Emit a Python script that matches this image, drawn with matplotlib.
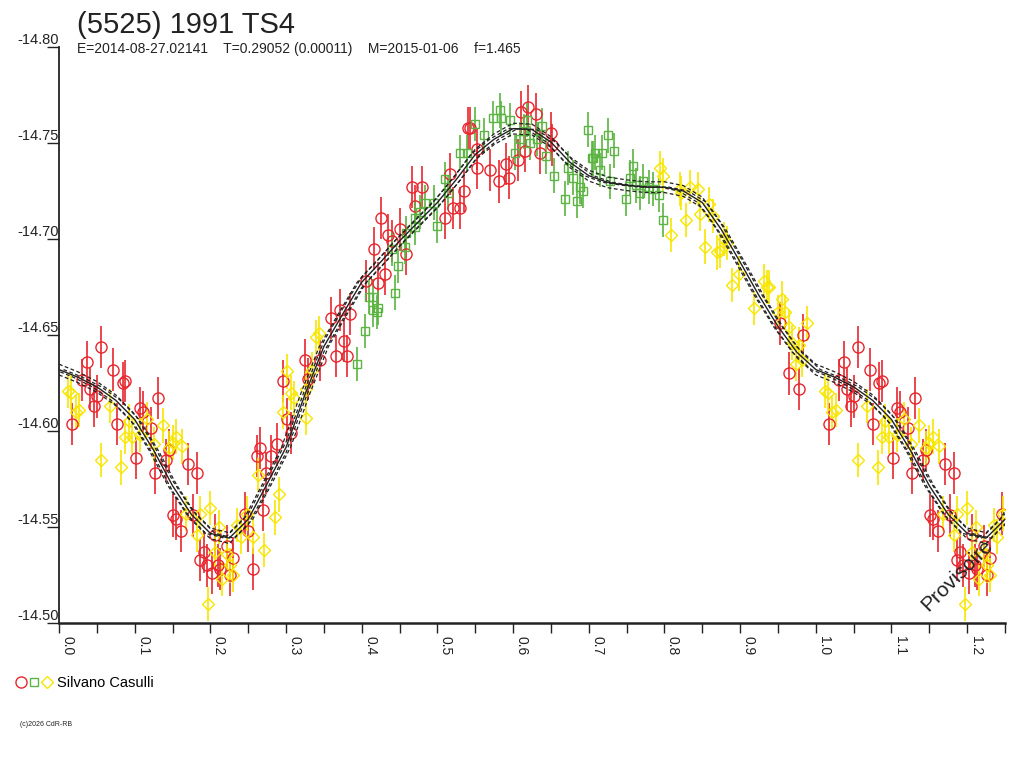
import numpy as np
import matplotlib
matplotlib.use("Agg")
import matplotlib.pyplot as plt
from matplotlib.transforms import ScaledTranslation
from matplotlib.legend_handler import HandlerTuple

plt.rcParams['font.family'] = ['Liberation Sans', 'DejaVu Sans']

title = "(5525) 1991 TS4"
subtitle = "E=2014-08-27.02141    T=0.29052 (0.00011)    M=2015-01-06    f=1.465"
observer = "Silvano Casulli"
copyright_txt = "(c)2026 CdR-RB"
watermark = "Provisoire"

# --- data (phase, magnitude) ---
red_phase = [0.017, 0.031, 0.037, 0.041, 0.046, 0.050, 0.056, 0.072, 0.076, 0.084, 0.087,
             0.102, 0.107, 0.111, 0.122, 0.127, 0.131, 0.141, 0.145, 0.151, 0.155, 0.161,
             0.171, 0.177, 0.182, 0.186, 0.191, 0.195, 0.202, 0.206, 0.210, 0.213, 0.222,
             0.226, 0.230, 0.246, 0.250, 0.257, 0.261, 0.266, 0.270, 0.274, 0.280, 0.288,
             0.296, 0.301, 0.307, 0.325, 0.329, 0.345, 0.360, 0.366, 0.371, 0.376, 0.380,
             0.385, 0.406, 0.416, 0.421, 0.426, 0.431, 0.435, 0.440, 0.451, 0.459, 0.466,
             0.470, 0.480, 0.510, 0.517, 0.521, 0.530, 0.535, 0.541, 0.543, 0.552, 0.552,
             0.570, 0.581, 0.591, 0.595, 0.606, 0.610, 0.616, 0.620, 0.630, 0.636, 0.650,
             0.652, 0.953, 0.964, 0.978, 0.983]
red_mag = [-14.6035, -14.6266, -14.6358, -14.622, -14.613, -14.618, -14.6436, -14.632, -14.6035,
           -14.6248, -14.626, -14.5858, -14.612, -14.610, -14.6014, -14.578, -14.617, -14.585,
           -14.590, -14.556, -14.554, -14.548, -14.583, -14.556, -14.578, -14.533, -14.537,
           -14.530, -14.526, -14.546, -14.530, -14.528, -14.540, -14.525, -14.534, -14.557,
           -14.548, -14.528, -14.587, -14.591, -14.559, -14.578, -14.587, -14.593, -14.626,
           -14.606, -14.599, -14.637, -14.627, -14.637, -14.659, -14.639, -14.663, -14.647,
           -14.639, -14.661, -14.678, -14.695, -14.677, -14.711, -14.682, -14.702, -14.699,
           -14.705, -14.692, -14.727, -14.717, -14.727, -14.711, -14.734, -14.716, -14.716,
           -14.725, -14.758, -14.758, -14.747, -14.737, -14.736, -14.730, -14.739, -14.732,
           -14.741, -14.766, -14.746, -14.769, -14.765, -14.745, -14.755, -14.749, -14.656,
           -14.630, -14.622, -14.650]

green_phase = [0.394, 0.404, 0.410, 0.415, 0.415, 0.420, 0.422, 0.440, 0.444, 0.448, 0.457,
               0.459, 0.470, 0.471, 0.477, 0.484, 0.495, 0.499, 0.510, 0.514, 0.530, 0.539,
               0.550, 0.561, 0.574, 0.583, 0.584, 0.596, 0.603, 0.609, 0.614, 0.619, 0.623,
               0.631, 0.638, 0.644, 0.654, 0.669, 0.673, 0.679, 0.684, 0.688, 0.692, 0.699,
               0.704, 0.705, 0.708, 0.715, 0.718, 0.725, 0.728, 0.734, 0.749, 0.754, 0.758,
               0.763, 0.768, 0.772, 0.780, 0.785, 0.793, 0.798]
green_mag = [-14.635, -14.652, -14.670, -14.663, -14.670, -14.662, -14.664, -14.695, -14.672,
             -14.686, -14.696, -14.703, -14.706, -14.711, -14.714, -14.719, -14.719, -14.707,
             -14.731, -14.724, -14.745, -14.745, -14.760, -14.754, -14.763, -14.767, -14.763,
             -14.762, -14.745, -14.752, -14.756, -14.762, -14.750, -14.752, -14.759, -14.743,
             -14.733, -14.721, -14.737, -14.732, -14.720, -14.727, -14.725, -14.757, -14.742,
             -14.742, -14.745, -14.736, -14.745, -14.754, -14.730, -14.746, -14.721, -14.732,
             -14.738, -14.728, -14.724, -14.730, -14.727, -14.726, -14.723, -14.710]

yellow_phase = [0.012, 0.016, 0.022, 0.027, 0.056, 0.067, 0.082, 0.087, 0.092, 0.097, 0.107,
                0.116, 0.126, 0.137, 0.145, 0.150, 0.155, 0.163, 0.168, 0.182, 0.186, 0.197,
                0.200, 0.206, 0.212, 0.216, 0.222, 0.226, 0.230, 0.235, 0.240, 0.248, 0.257,
                0.263, 0.271, 0.285, 0.291, 0.296, 0.301, 0.307, 0.310, 0.326, 0.327, 0.334,
                0.340, 0.344, 0.794, 0.798, 0.809, 0.820, 0.822, 0.829, 0.834, 0.845, 0.847,
                0.854, 0.859, 0.864, 0.869, 0.874, 0.879, 0.883, 0.889, 0.898, 0.918, 0.931,
                0.935, 0.938, 0.950, 0.955, 0.959, 0.964, 0.968, 0.974, 0.978, 0.982, 0.989]
yellow_mag = [-14.621, -14.620, -14.610, -14.611, -14.585, -14.613, -14.581, -14.597, -14.605,
              -14.597, -14.598, -14.606, -14.593, -14.603, -14.591, -14.594, -14.597, -14.592,
              -14.557, -14.546, -14.557, -14.510, -14.560, -14.537, -14.550, -14.523, -14.536,
              -14.530, -14.525, -14.551, -14.545, -14.557, -14.545, -14.577, -14.538, -14.555,
              -14.567, -14.610, -14.631, -14.620, -14.617, -14.607, -14.622, -14.632, -14.649,
              -14.651, -14.737, -14.733, -14.702, -14.726, -14.724, -14.710, -14.727, -14.726,
              -14.713, -14.696, -14.718, -14.712, -14.693, -14.694, -14.700, -14.698, -14.676,
              -14.682, -14.664, -14.678, -14.675, -14.675, -14.662, -14.669, -14.662, -14.654,
              -14.646, -14.635, -14.645, -14.637, -14.656]

red_err = 0.011
green_err = 0.009
yellow_err = 0.009

# fitted curve
curve_phase = [0.000, 0.025, 0.050, 0.075, 0.100, 0.125, 0.150, 0.175, 0.200, 0.225, 0.250,
               0.275, 0.300, 0.325, 0.350, 0.375, 0.400, 0.425, 0.450, 0.475, 0.500, 0.525,
               0.550, 0.575, 0.600, 0.625, 0.650, 0.675, 0.700, 0.725, 0.750, 0.775, 0.800,
               0.825, 0.850, 0.875, 0.900, 0.925, 0.950, 0.975]
curve_mag = [-14.632, -14.628, -14.623, -14.616, -14.606, -14.590, -14.5715, -14.5565, -14.5467,
             -14.5442, -14.554, -14.5725, -14.5915, -14.619, -14.644, -14.661, -14.6775, -14.688,
             -14.699, -14.709, -14.719, -14.731, -14.744, -14.752, -14.7575, -14.757, -14.7505,
             -14.740, -14.733, -14.7295, -14.728, -14.727, -14.727, -14.725, -14.719, -14.705,
             -14.688, -14.6705, -14.6545, -14.641]
band_mag = 0.0028
band_phase = 0.006

x_ticks = [0.0, 0.1, 0.2, 0.3, 0.4, 0.5, 0.6, 0.7, 0.8, 0.9, 1.0, 1.1, 1.2]
x_labels = ["0.0", "0.1", "0.2", "0.3", "0.4", "0.5", "0.6", "0.7", "0.8", "0.9", "1.0", "1.1", "1.2"]
y_ticks = [-14.80, -14.75, -14.70, -14.65, -14.60, -14.55, -14.50]
y_labels = ["-14.80", "-14.75", "-14.70", "-14.65", "-14.60", "-14.55", "-14.50"]

RED = '#e8262e'
GREEN = '#5cb443'
YELLOW = '#f7e600'


def extend(ph, mg, lim=0.25):
    ph = np.asarray(ph, float)
    mg = np.asarray(mg, float)
    m = ph < lim
    return np.concatenate([ph, ph[m] + 1.0]), np.concatenate([mg, mg[m]])


fig = plt.figure(figsize=(10.24, 7.68), dpi=100)
W, H = 1024, 768
ax = fig.add_axes([59 / W, 1 - 623 / H, (1005 - 59) / W, (623 - 47) / H])
ax.set_xlim(0, 1.25)
ax.set_ylim(-14.50, -14.80)

series = [(red_phase, red_mag, red_err, RED, 'o', 8.0),
          (green_phase, green_mag, green_err, GREEN, 's', 5.8),
          (yellow_phase, yellow_mag, yellow_err, YELLOW, 'D', 6.5)]
handles = []
for ph, mg, err, col, mk, ms in series:
    p, m = extend(ph, mg)
    ax.vlines(p, m - err, m + err, colors=col, linewidth=1.2, zorder=2)
    h, = ax.plot(p, m, linestyle='none', marker=mk, ms=ms, mfc='none', mec=col, mew=1.0, zorder=3)
    handles.append(h)

cp, cm = extend(curve_phase, curve_mag, lim=0.3)
order = np.argsort(cp)
cp, cm = cp[order], cm[order]
ax.plot(cp, cm, color='#222222', lw=1.0, zorder=5)
for dy in (-band_mag, band_mag):
    ax.plot(cp, cm + dy, color='#222222', lw=0.9, ls=(0, (3, 2)), zorder=5)
for dx in (-band_phase, band_phase):
    ax.plot(cp + dx, cm, color='#222222', lw=0.9, ls=(0, (3, 2)), zorder=5)

# axes styling
for s in ('top', 'right'):
    ax.spines[s].set_visible(False)
ax.spines['left'].set_linewidth(1.3)
ax.spines['bottom'].set_linewidth(1.8)
ax.spines['left'].set_color('#222222')
ax.spines['bottom'].set_color('#222222')

ax.set_xticks(x_ticks)
ax.set_xticklabels(x_labels, rotation=270, ha='left', va='top', fontsize=10, color='#222222')
ax.set_xticks(np.arange(0.05, 1.26, 0.1), minor=True)
ax.tick_params(axis='x', which='both', direction='out', length=7, width=1.0, color='#222222', pad=2)
off = ScaledTranslation(1 / 72, 0, fig.dpi_scale_trans)
for lab in ax.get_xticklabels():
    lab.set_transform(lab.get_transform() + off)

ax.set_yticks(y_ticks)
ax.set_yticklabels(y_labels, fontsize=10.5, color='#222222')
ax.tick_params(axis='y', which='major', direction='out', length=9, width=1.0, color='#222222', pad=-9)
for lab in ax.get_yticklabels():
    lab.set_verticalalignment('bottom')

fig.text(77 / W, 1 - 33 / H, title, fontsize=21, color='#222222', ha='left', va='baseline')
fig.text(77 / W, 1 - 53 / H, subtitle, fontsize=10, color='#222222', ha='left', va='baseline')
fig.text(957 / W, 1 - 575 / H, watermark, fontsize=15, rotation=45, color='#222222',
         ha='center', va='center')

fig.legend(handles=[tuple(handles)], labels=[observer],
           handler_map={tuple: HandlerTuple(ndivide=None, pad=0.1)},
           loc='center left', bbox_to_anchor=(15 / W, 1 - 683 / H), frameon=False,
           fontsize=10.5, handlelength=2.6, handletextpad=0.3, borderpad=0, borderaxespad=0)
fig.text(20 / W, 1 - 726 / H, copyright_txt, fontsize=5, color='#222222', ha='left', va='baseline')

fig.savefig('out.png', dpi=100)
